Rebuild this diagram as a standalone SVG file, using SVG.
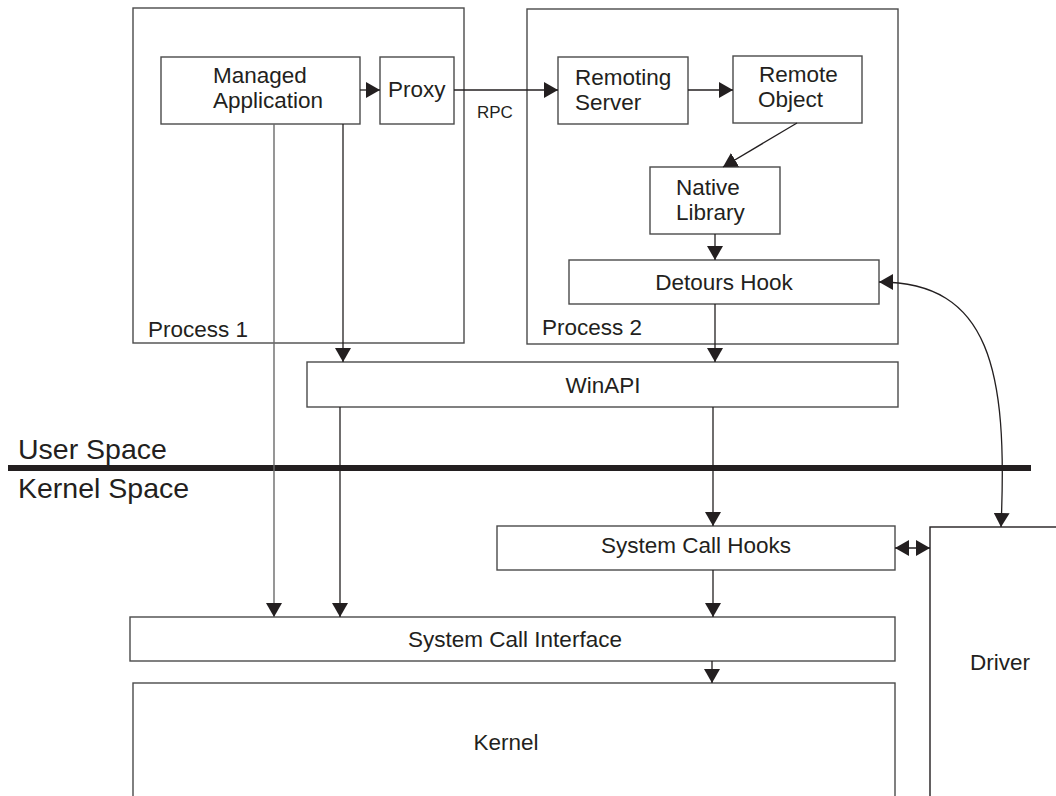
<svg xmlns="http://www.w3.org/2000/svg" width="1056" height="796" viewBox="0 0 1056 796">
<defs>
<style>
.box{fill:#fff;stroke:#4a4a4a;stroke-width:1.4}
.open{fill:none;stroke:#231f20;stroke-width:1.4}
.t{font-family:"Liberation Sans",Arial,sans-serif;font-size:22.5px;fill:#231f20}
.c{text-anchor:middle}
.ln{fill:none;stroke:#231f20;stroke-width:1.3}
.gl{fill:none;stroke:#6a6a6a;stroke-width:1.4}
.arr{marker-end:url(#ah)}
.both{marker-start:url(#ah);marker-end:url(#ah)}
</style>
<marker id="ah" markerUnits="userSpaceOnUse" markerWidth="15" markerHeight="16" refX="14" refY="8" orient="auto-start-reverse" viewBox="0 0 15 16">
<path d="M0,0 L14,8 L0,16 z" fill="#231f20"/>
</marker>
</defs>
<rect width="1056" height="796" fill="#fff"/>

<g id="process1">
<rect class="box" x="133" y="8" width="331" height="335"/>
<text class="t" x="148" y="337">Process 1</text>
</g>
<g id="process2">
<rect class="box" x="527" y="9" width="371" height="335"/>
<text class="t" x="542" y="335">Process 2</text>
</g>
<g id="managed-application">
<rect class="box" x="161" y="57" width="199" height="67"/>
<text class="t" x="213" y="83">Managed</text>
<text class="t" x="213" y="108">Application</text>
</g>
<g id="proxy">
<rect class="box" x="380" y="57" width="74" height="67"/>
<text class="t" x="388" y="97">Proxy</text>
</g>
<g id="remoting-server">
<rect class="box" x="558" y="57" width="130" height="67"/>
<text class="t" x="575" y="85">Remoting</text>
<text class="t" x="575" y="110">Server</text>
</g>
<g id="remote-object">
<rect class="box" x="733" y="56" width="129" height="67"/>
<text class="t" x="759" y="82">Remote</text>
<text class="t" x="758" y="107">Object</text>
</g>
<g id="native-library">
<rect class="box" x="650" y="167" width="130" height="67"/>
<text class="t" x="676" y="195">Native</text>
<text class="t" x="676" y="220">Library</text>
</g>
<g id="detours-hook">
<rect class="box" x="569" y="260" width="310" height="44"/>
<text class="t c" x="724" y="290">Detours Hook</text>
</g>
<g id="winapi">
<rect class="box" x="307" y="362" width="591" height="45"/>
<text class="t c" x="603" y="393">WinAPI</text>
</g>
<g id="space-divider">
<line x1="8" y1="468" x2="1031" y2="468" stroke="#231f20" stroke-width="6"/>
<text class="t" x="18" y="459" style="font-size:28.5px">User Space</text>
<text class="t" x="18" y="498" style="font-size:28.5px">Kernel Space</text>
</g>
<g id="system-call-hooks">
<rect class="box" x="497" y="526" width="398" height="44"/>
<text class="t c" x="696" y="553">System Call Hooks</text>
</g>
<g id="system-call-interface">
<rect class="box" x="130" y="617" width="765" height="44"/>
<text class="t c" x="515" y="647">System Call Interface</text>
</g>
<g id="kernel">
<rect class="box" x="133" y="683" width="762" height="130"/>
<text class="t c" x="506" y="750">Kernel</text>
</g>
<g id="driver">
<rect class="open" x="930" y="527" width="200" height="300"/>
<text class="t" x="970" y="670">Driver</text>
</g>

<g id="connectors">
<line class="ln arr" x1="360" y1="90" x2="380" y2="90"/>
<line class="ln arr" x1="454" y1="90" x2="558" y2="90"/>
<text class="t" x="477" y="118" style="font-size:17px">RPC</text>
<line class="ln arr" x1="688" y1="90" x2="733" y2="90"/>
<line class="ln arr" x1="797" y1="123" x2="723" y2="167"/>
<line class="ln arr" x1="715" y1="234" x2="715" y2="260"/>
<line class="ln arr" x1="715" y1="304" x2="715" y2="362"/>
<line class="ln arr" x1="343" y1="124" x2="343" y2="362"/>
<line class="gl arr" x1="274" y1="124" x2="274" y2="617"/>
<line class="ln arr" x1="340" y1="407" x2="340" y2="617"/>
<line class="ln arr" x1="713" y1="407" x2="713" y2="526"/>
<line class="ln arr" x1="713" y1="570" x2="713" y2="617"/>
<line class="ln arr" x1="712" y1="661" x2="712" y2="683"/>
<path class="ln both" d="M879,282 C990,282 1008,370 1001,527"/>
<line class="ln both" x1="895" y1="548" x2="930" y2="548"/>
</g>
</svg>
